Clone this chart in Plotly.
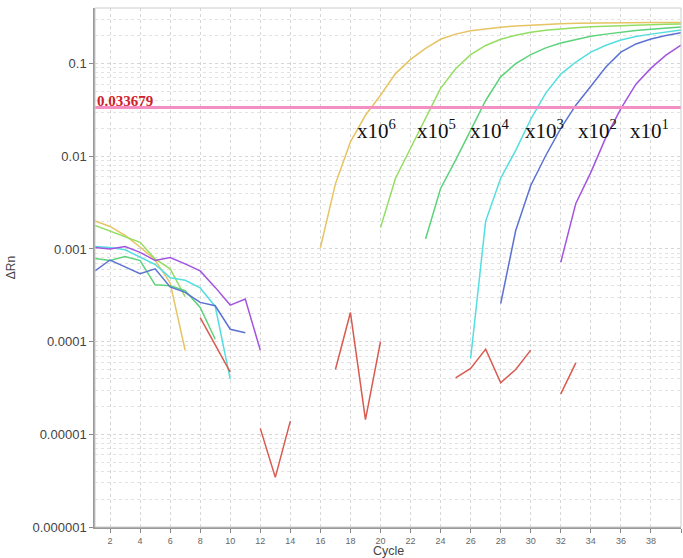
import math
import plotly.graph_objects as go

cycles = list(range(1, 41))

N = None
# x10^6 (yellow)
s_1e6 = [0.00200, 0.00175, 0.00140, 0.00105, 0.00076, 0.00043, 0.0000807] + [N] * 8 + \
        [0.00103, 0.00504, 0.0143, 0.0277, 0.0456, 0.078, 0.111, 0.146, 0.183, 0.208, 0.226,
         0.238, 0.247, 0.255, 0.261, 0.266, 0.270, 0.272, 0.274, 0.275, 0.276, 0.277, 0.277,
         0.278, 0.278]
# x10^5 (light green)
s_1e5 = [0.00179, 0.00155, 0.00134, 0.00118, 0.00078, 0.00061, 0.000305] + [N] * 12 + \
        [0.0017, 0.0058, 0.0122, 0.0257, 0.054, 0.088, 0.125, 0.157, 0.183, 0.202, 0.218,
         0.229, 0.238, 0.244, 0.250, 0.254, 0.258, 0.261, 0.264, 0.266, 0.268]
# x10^4 (green)
s_1e4 = [0.00079, 0.00075, 0.00083, 0.00075, 0.00041, 0.00040, 0.000354, 0.000234, 0.000106] + [N] * 13 + \
        [0.00128, 0.0045, 0.0091, 0.019, 0.040, 0.072, 0.100, 0.125, 0.148, 0.167, 0.183,
         0.197, 0.208, 0.218, 0.227, 0.235, 0.242, 0.248]
# x10^3 (cyan)
s_1e3 = [0.00106, 0.00104, 0.00098, 0.00082, 0.00068, 0.00049, 0.00046, 0.00038, 0.00024, 0.0000395] + [N] * 15 + \
        [0.000066, 0.0020, 0.0058, 0.0116, 0.0251, 0.048, 0.077, 0.104, 0.133, 0.158, 0.180,
         0.196, 0.208, 0.219, 0.231]
# x10^2 (blue)
s_1e2 = [0.00058, 0.00076, 0.00064, 0.00054, 0.00061, 0.00039, 0.00034, 0.000265, 0.000244, 0.000136, 0.000125] + [N] * 16 + \
        [0.000258, 0.00158, 0.00484, 0.0102, 0.020, 0.0356, 0.057, 0.0917, 0.133, 0.163, 0.184,
         0.201, 0.215]
# x10^1 (purple)
s_1e1 = [0.00104, 0.00100, 0.00106, 0.00092, 0.00075, 0.00081, 0.00069, 0.00058, 0.000385, 0.000248, 0.000288, 0.000081] + [N] * 19 + \
        [0.00072, 0.0031, 0.0067, 0.016, 0.0326, 0.060, 0.0894, 0.1236, 0.158]
# red (negative control)
s_ntc = [N] * 7 + [0.000182, 0.000092, 0.000047, N, 1.16e-5, 3.43e-6, 1.39e-5, N, N,
                   5.0e-5, 2.06e-4, 1.44e-5, 1.0e-4, N, N, N, N,
                   4.07e-5, 5.15e-5, 8.3e-5, 3.6e-5, 5.0e-5, 8.1e-5, N, 2.73e-5, 5.9e-5] + [N] * 7

threshold = 0.033679
y_tickvals = [1e-6, 1e-5, 1e-4, 1e-3, 1e-2, 1e-1]
y_ticktext = ["0.000001", "0.00001", "0.0001", "0.001", "0.01", "0.1"]
x_tickvals = list(range(2, 41, 2))

labels = ["x10<sup>6</sup>", "x10<sup>5</sup>", "x10<sup>4</sup>", "x10<sup>3</sup>", "x10<sup>2</sup>", "x10<sup>1</sup>"]
label_x = [18.3, 22.3, 25.8, 29.5, 33.0, 36.5]
label_y = 0.0195

series = [
    ("x10^6", s_1e6, "#E6C463"),
    ("x10^5", s_1e5, "#93DE62"),
    ("x10^4", s_1e4, "#5CD37A"),
    ("x10^3", s_1e3, "#55DEE0"),
    ("x10^2", s_1e2, "#5B72D3"),
    ("x10^1", s_1e1, "#A254E0"),
    ("NTC", s_ntc, "#D85A50"),
]

fig = go.Figure()
for name, vals, col in series:
    fig.add_trace(go.Scatter(x=cycles, y=vals, mode="lines", name=name,
                             line=dict(color=col, width=1.5), connectgaps=False,
                             hoverinfo="x+y+name"))

fig.add_trace(go.Scatter(x=[cycles[0], cycles[-1]], y=[threshold, threshold], mode="lines",
                         name="Threshold", line=dict(color="#F38FC3", width=3)))

fig.add_annotation(x=cycles[0], y=math.log10(threshold), xref="x", yref="y",
                   text="<b>%g</b>" % threshold, showarrow=False,
                   xanchor="left", yanchor="bottom", yshift=-4,
                   font=dict(family="Liberation Serif", size=15, color="#D0202A"))

for t, lx in zip(labels, label_x):
    fig.add_annotation(x=lx, y=math.log10(label_y), xref="x", yref="y", text=t,
                       showarrow=False, xanchor="left", yanchor="middle",
                       font=dict(family="Liberation Serif", size=21, color="#111111"))

# x-axis title
fig.add_annotation(x=0.5, y=0, xref="paper", yref="paper", text="Cycle", showarrow=False,
                   xanchor="center", yanchor="top", yshift=-15,
                   font=dict(family="Liberation Sans", size=12.5, color="#444444"))

fig.add_shape(type="rect", xref="paper", yref="paper", x0=0, y0=0, x1=1, y1=1,
              line=dict(color="#cccccc", width=1), layer="above")

fig.update_layout(
    width=683, height=558,
    margin=dict(l=95, r=2, t=8, b=31),
    paper_bgcolor="white", plot_bgcolor="white",
    showlegend=False,
    font=dict(family="Liberation Sans", color="#444444"),
    xaxis=dict(range=[1, 40], tickvals=x_tickvals, ticks="outside", ticklen=4,
               tickcolor="#888888", tickfont=dict(size=9, color="#666666"),
               showgrid=True, gridcolor="#d6d6d6", griddash="dot", gridwidth=1,
               showline=True, linecolor="#999999", linewidth=1.5,
               zeroline=False, automargin=False),
    yaxis=dict(type="log", range=[-6, -0.4], tickvals=y_tickvals, ticktext=y_ticktext,
               ticks="outside", ticklen=4, tickcolor="#888888",
               tickfont=dict(size=13, color="#444444"),
               showgrid=True, gridcolor="#d6d6d6", griddash="dot", gridwidth=1,
               minor=dict(showgrid=True, dtick="D1", gridcolor="#e2e2e2", griddash="dot", ticks=""),
               showline=True, linecolor="#999999", linewidth=1.5,
               zeroline=False, automargin=False,
               title=dict(text="ΔRn", font=dict(size=12, color="#444444"), standoff=14)),
)

fig.write_html("out.html", config={"displayModeBar": False},
               post_script="document.body.style.margin='0';document.body.style.overflow='hidden';")
